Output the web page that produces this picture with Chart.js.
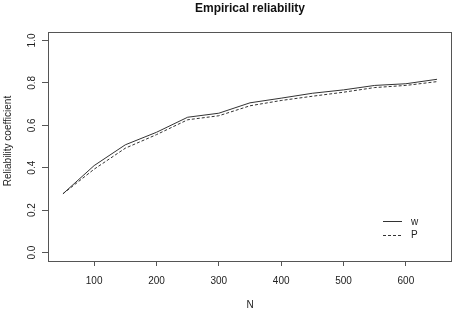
<!DOCTYPE html>
<html>
<head>
<meta charset="utf-8">
<script src="https://cdn.jsdelivr.net/npm/chart.js@4"></script>
<style>
  html, body { margin: 0; padding: 0; background: #fff; }
  #wrap { width: 454px; height: 311px; }
</style>
</head>
<body>
<div id="wrap"><canvas id="rel" width="454" height="311"></canvas></div>
<script>
// Data definitions
const sampleSizes = [50, 100, 150, 200, 250, 300, 350, 400, 450, 500, 550, 600, 650];
const wValues = [0.277, 0.41, 0.508, 0.567, 0.638, 0.657, 0.706, 0.728, 0.751, 0.767, 0.788, 0.796, 0.817];
const pValues = [0.277, 0.393, 0.492, 0.556, 0.626, 0.645, 0.692, 0.717, 0.737, 0.756, 0.778, 0.788, 0.806];
const xTicks = [100, 200, 300, 400, 500, 600];
const yTicks = [0, 0.2, 0.4, 0.6, 0.8, 1.0];
const yTickLabels = ['0.0', '0.2', '0.4', '0.6', '0.8', '1.0'];

const FONT = '"Liberation Sans", Arial, sans-serif';
const INK = '#333';
const FRAME = '#555';

function toPoints(ys) {
  return sampleSizes.map((n, i) => ({ x: n, y: ys[i] }));
}

// R style frame, titles, rotated y labels and legend
const rFrame = {
  id: 'rFrame',
  afterDraw(chart) {
    const ctx = chart.ctx;
    const a = chart.chartArea;
    const yScale = chart.scales.y;
    const cx = (a.left + a.right) / 2;

    ctx.save();
    ctx.strokeStyle = FRAME;
    ctx.lineWidth = 1;
    ctx.strokeRect(Math.round(a.left) + 0.5, Math.round(a.top) + 0.5,
      Math.round(a.right - a.left) - 1, Math.round(a.bottom - a.top));

    ctx.fillStyle = '#111';
    ctx.textAlign = 'center';
    ctx.textBaseline = 'middle';
    ctx.font = 'bold 12px ' + FONT;
    ctx.fillText('Empirical reliability', cx, 9);

    ctx.fillStyle = '#222';
    ctx.font = '10px ' + FONT;
    ctx.fillText('N', cx, 305);

    // y tick labels, rotated like R's las = 0
    yTicks.forEach((v, i) => {
      ctx.save();
      ctx.translate(32, yScale.getPixelForValue(v));
      ctx.rotate(-Math.PI / 2);
      ctx.fillText(yTickLabels[i], 0, 0);
      ctx.restore();
    });

    ctx.save();
    ctx.translate(8, 141);
    ctx.rotate(-Math.PI / 2);
    ctx.fillText('Reliability coefficient', 0, 0);
    ctx.restore();

    // legend, no box
    chart.data.datasets.forEach((ds, i) => {
      const y = a.bottom - 40 + i * 13.5;
      ctx.strokeStyle = ds.borderColor;
      ctx.setLineDash(ds.borderDash || []);
      ctx.beginPath();
      ctx.moveTo(a.right - 69, Math.round(y) + 0.5);
      ctx.lineTo(a.right - 50, Math.round(y) + 0.5);
      ctx.stroke();
      ctx.setLineDash([]);
      ctx.textAlign = 'left';
      ctx.fillText(ds.label, a.right - 41, y + 1);
    });
    ctx.restore();
  }
};

const chart = new Chart(document.getElementById('rel').getContext('2d'), {
  type: 'line',
  data: {
    datasets: [{
      label: 'w',
      data: toPoints(wValues),
      borderColor: INK,
      borderWidth: 1,
      pointRadius: 0,
      tension: 0
    }, {
      label: 'P',
      data: toPoints(pValues),
      borderColor: INK,
      borderWidth: 1,
      borderDash: [3, 2],
      pointRadius: 0,
      tension: 0
    }]
  },
  options: {
    responsive: false,
    animation: false,
    layout: {
      padding: { top: 32, right: 2, left: 0, bottom: 0 }
    },
    plugins: {
      legend: { display: false },
      tooltip: { enabled: false }
    },
    scales: {
      x: {
        type: 'linear',
        min: 26,
        max: 674,
        afterBuildTicks: s => { s.ticks = xTicks.map(v => ({ value: v })); },
        afterFit: s => { s.height = 50; },
        border: { display: false },
        grid: { drawOnChartArea: false, drawTicks: true, tickLength: 5, color: FRAME },
        ticks: {
          font: { family: FONT, size: 10 },
          color: '#222',
          padding: 9,
          maxRotation: 0
        }
      },
      y: {
        type: 'linear',
        min: -0.04,
        max: 1.04,
        afterBuildTicks: s => { s.ticks = yTicks.map(v => ({ value: v })); },
        afterFit: s => { s.width = 48; },
        border: { display: false },
        grid: { drawOnChartArea: false, drawTicks: true, tickLength: 6, color: FRAME },
        ticks: { display: false }
      }
    }
  },
  plugins: [rFrame]
});
</script>
</body>
</html>
